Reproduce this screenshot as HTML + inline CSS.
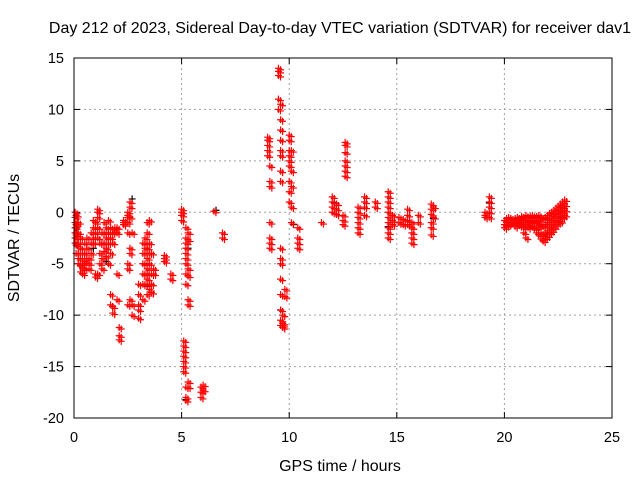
<!DOCTYPE html>
<html><head><meta charset="utf-8"><style>
body{margin:0;background:#fff}
svg{display:block;font-family:"Liberation Sans",sans-serif}
</style></head><body>
<svg id="chart" width="640" height="480" xmlns="http://www.w3.org/2000/svg">
<rect width="640" height="480" fill="#fff"/>
<text x="340" y="33" text-anchor="middle" font-size="16">Day 212 of 2023, Sidereal Day-to-day VTEC variation (SDTVAR) for receiver dav1</text>
<text x="340" y="471" text-anchor="middle" font-size="16">GPS time / hours</text>
<text transform="translate(19,238) rotate(-90)" text-anchor="middle" font-size="16">SDTVAR / TECUs</text>
<g id="grid"></g><g id="ticks"></g><g id="marks"></g>
<rect x="74" y="58" width="538" height="360" fill="none" stroke="#000" stroke-width="1"/>
</svg>
<script>
const xTicks=[0,5,10,15,20,25];
const yTicks=[15,10,5,0,-5,-10,-15,-20];
const clusterX=[0.05,0.1,0.2,0.3,0.4,0.5,0.6,0.7,0.8,0.9,1.0,1.1,1.2,1.3,1.4,1.5,1.6,1.7,1.8,1.9,2.0,2.1,2.3,2.5,2.6,2.7,3.0,3.2,3.3,3.4,3.5,3.6,3.7,4.2,4.5,5.0,5.1,5.2,5.3,5.9,6.0,6.5,6.9,9.0,9.1,9.5,9.6,9.7,9.8,10.0,10.1,10.4,11.5,12.0,12.2,12.5,12.6,13.2,13.5,14.0,14.6,14.8,15.1,15.3,15.5,15.7,16.0,16.6,16.7,19.1,19.3,20.0,20.1,20.2,20.3,20.4,20.5,20.6,20.7,20.8,20.9,21.0,21.1,21.2,21.3,21.4,21.5,21.6,21.7,21.8,21.9,22.0,22.1,22.2,22.3,22.4,22.5,22.6,22.7,22.8];
const clusterY=[
[0,-0.5,-1,-1.5,-2,-2.5,-3],[-0.3,-1.2,-2.2,-3.2,-4],[-1,-2,-3,-4,-4.5,-5],[-2.5,-3.5,-4.5,-5.2,-5.8],[-4,-5,-5.5,-6],[-3,-4,-4.8,-5.5],[-2.5,-3.5,-4.5],[-4.5,-5,-5.5],[-2,-3,-4],[-0.8,-1.5,-2.5,-3],
[-1,-2,-6,-6.3],[-0.5,0,0.3,-1.5,-2.5,-6],[-3,-4,-5],[-2,-3,-4.5,-5.5],[-1,-2,-3,-3.8],[-1.5,-2.5,-3.5,-4.3],[-0.8,-2,-3,-5],[-1.5,-2.5,-4,-8,-9],[-2,-3,-9.2,-9.8],[-1.8,-1.5],
[-1.5,-2,-6,-8.5],[-12,-12.4,-11.2],[-1.2,-1,-0.8],[-1,-0.5,-0.3,0,-2,-5,-5.5,-9],[0.5,1,-0.5,-3.5,-4,-8.5],[-2,-9,-10],[-8,-9,-9.5,-10.3,-7],[-3,-4,-5,-6,-7,-8.5],[-2.5,-3,-3.5,-4,-5,-6,-7],[-1,-2,-3.5,-4.5,-5.5,-6,-6.5,-8],
[-0.8,-3,-4,-5,-7,-7.5],[-4,-6,-7,-7.8],[-5.5,-6],[-4.2,-4.5,-4.8],[-6,-6.5],[0,0.3,-0.3,-0.8],[-12.5,-13,-13.5,-14,-14.5,-15,-15.5],[-1.5,-2.5,-3,-3.5,-4,-4.5,-5,-6,-7,-17,-18,-18.3],[-2,-2.7,-5.5,-6.2,-8.5,-9,-16.5,-17],[-17,-17.5,-18],
[-16.8,-17.3],[0.1],[-2,-2.5],[7.3,7,6.5,6,5.5],[4.5,3,2.5,-1,-2.5,-3,-3.5],[14,13.7,13.3,11,10],[10.5,9,8,7,6,5.5,4,3,-3.5,-4.5,-5,-6.5,-8,-9.5,-10.5,-11],[-10,-10.8,-11,-11.2],[-7.5,-8.2],[7.5,7,6,5.5,5,4.5,3,2,1],
[6,4,2.5,0.5,-1],[-1.5,-2.5,-3,-3.5],[-1],[1.5,1,0.5,0],[0.8,0.3,-0.2],[-0.3,-0.8,-1.2],[6.8,6.5,5.8,5,4.5,4,3.5],[0.5,0,-0.5,-1,-1.5,-2],[1.5,1,0.5,-0.3],[1,0.5],
[2,1.5,1,0.5,0,-0.5,-1,-1.5,-2,-2.5],[-0.3,-0.8,-1.2],[-0.5,-1,-1],[-0.7,-1.2],[0.3,-0.3,-0.8,-1.2],[-1,-1.5,-2,-2.5,-3],[-0.3,-1],[0.8,0.3,-0.2,-1,-1.5,-2.2],[0.5,-0.5],[-0.3,-0.5,0],
[1.5,1,0.5,0,-0.5],[-0.8,-1.2,-1.5],[-0.6,-1,-1.3],[-0.5,-0.9,-1.2],[-0.6,-1],[-0.7,-1.1],[-0.6,-1,-1.4],[-0.5,-0.9],[-0.6,-1,-1.3],[-0.4,-0.8,-1.2],
[-0.5,-1,-1.5,-2],[-0.3,-0.8,-1.2,-2.5],[-0.5,-1,-1.5],[-0.4,-0.9,-1.3],[-0.3,-0.8,-1.4],[-0.5,-1,-1.6],[-0.4,-0.9,-1.5,-2],[-0.3,-0.8,-1.3,-2.2],[-0.5,-1.2,-2,-2.6],[-0.6,-1.4,-2.2,-2.8],
[-0.5,-1.2,-2,-2.5],[-0.3,-1,-1.8,-2.3],[-0.1,-0.8,-1.5,-2],[0,-0.6,-1.2,-1.8],[0.2,-0.4,-1,-1.5],[0.4,-0.2,-0.8,-1.2],[0.6,0,-0.6,-1],[0.8,0.2,-0.4,-0.9],[1,0.5,0,-0.5],[1.2,0.7,0.2,-0.3]];
const blackX=[0.1,0.9,1.5,2.7,3.4,5.2,5.3,6.6,9.6,10.2,12.1,14.6,16.7,19.3,20.4];
const blackY=[-1.5,-3.5,-4.8,1.3,-7.2,-18.2,-3.5,0.2,-9.5,-1.2,0.9,-1.4,-0.6,0.9,-1.0];
const X0=74,X1=612,Y0=418,Y1=58;
const xs=v=>X0+(v-0)/(25-0)*(X1-X0);
const ys=v=>Y0-(v+20)/(35)*(Y0-Y1);
const NS="http://www.w3.org/2000/svg";
const grid=document.getElementById('grid'),ticks=document.getElementById('ticks'),marks=document.getElementById('marks');
function mk(tag,attrs,parent){const e=document.createElementNS(NS,tag);for(const k in attrs)e.setAttribute(k,attrs[k]);parent.appendChild(e);return e;}
xTicks.forEach(t=>{const x=xs(t);
 if(t>0&&t<25){const g=mk('line',{x1:x,x2:x,y1:Y1,y2:Y0,stroke:'#a0a0a0','stroke-dasharray':'2,3'},grid);
 
 }
 mk('line',{x1:x,x2:x,y1:Y0,y2:Y0-6,stroke:'#000'},ticks);mk('line',{x1:x,x2:x,y1:Y1,y2:Y1+6,stroke:'#000'},ticks);
 const l=mk('text',{x:x,y:Y0+24,'text-anchor':'middle','font-size':'14.5'},ticks);l.textContent=t;
 
 });
yTicks.forEach(t=>{const y=ys(t);
 if(t>-20&&t<15){const g=mk('line',{x1:X0,x2:X1,y1:y,y2:y,stroke:'#a0a0a0','stroke-dasharray':'2,3'},grid);
 
 }
 mk('line',{x1:X0,x2:X0+6,y1:y,y2:y,stroke:'#000'},ticks);mk('line',{x1:X1,x2:X1-6,y1:y,y2:y,stroke:'#000'},ticks);
 const l=mk('text',{x:X0-10,y:y+5,'text-anchor':'end','font-size':'14.5'},ticks);l.textContent=t;
 
 });
function plus(x,y,c){const p=mk('path',{d:`M${x-3.5},${y}h7M${x},${y-3.5}v7`,stroke:c,'stroke-width':'1.2',fill:'none'},marks);
 
 }
blackX.forEach((v,i)=>plus(xs(v),ys(blackY[i]),'#000'));
clusterX.forEach((cx,i)=>{clusterY[i].forEach(v=>{plus(xs(cx),ys(v),'#f00');plus(xs(cx)+2,ys(v)+1.5,'#f00');});});
</script>
</body></html>
